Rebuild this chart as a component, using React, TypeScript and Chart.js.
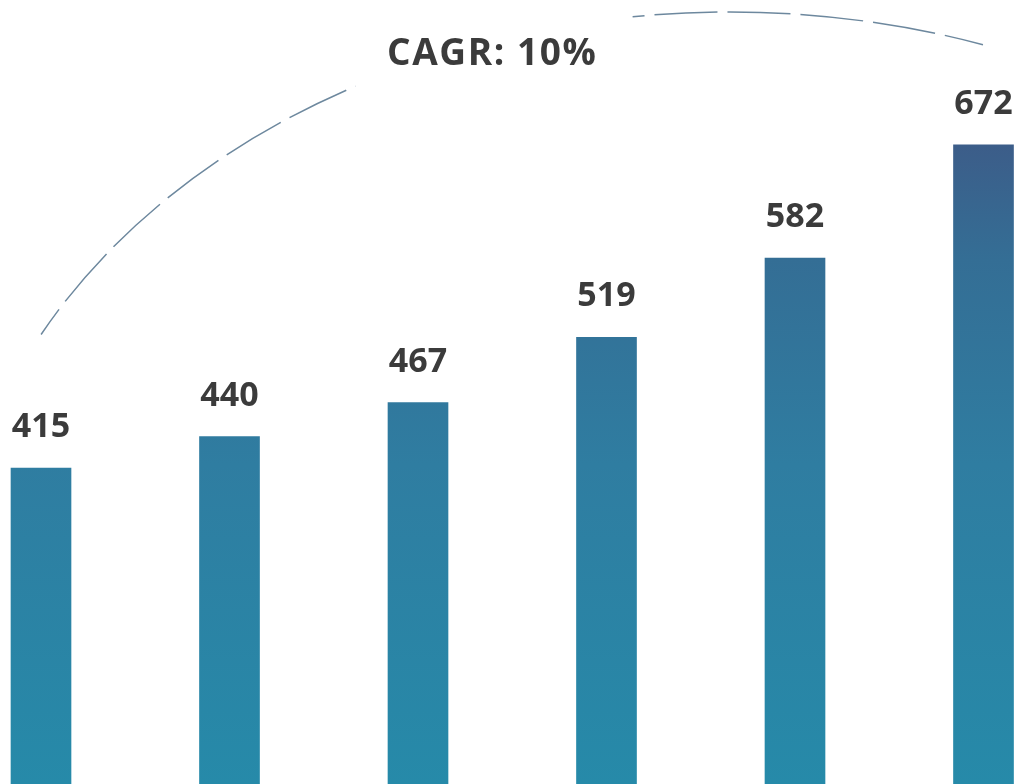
import React, { useEffect, useRef } from "react";
import { Chart, registerables } from "chart.js";

Chart.register(...registerables);

// ---- data ----
const categories = ["P1", "P2", "P3", "P4", "P5", "P6"];
const values = [415, 440, 467, 519, 582, 672];
const cagrLabel = "CAGR: 10%";

// ---- scale range (axis hidden) ----
const yMin = 164;
const yMax = 787;

const TEXT_COLOR = "#3b3b3b";
const ARC_COLOR = "#6d889e";

const labelsPlugin = {
  id: "barLabels",
  afterDatasetsDraw(chart: any) {
    const ctx = chart.ctx;
    const meta = chart.getDatasetMeta(0);
    ctx.save();
    ctx.fillStyle = TEXT_COLOR;
    ctx.font = "700 34px 'Open Sans'";
    ctx.textAlign = "center";
    ctx.textBaseline = "alphabetic";
    meta.data.forEach((bar: any, i: number) => {
      ctx.fillText(String(values[i]), bar.x, bar.y - 31);
    });
    ctx.restore();
  },
};

const cagrPlugin = {
  id: "cagrArc",
  afterDraw(chart: any) {
    const ctx = chart.ctx;
    const W = chart.width;
    const cx = W * 0.7171;
    const cy = 612;
    const rx = W * 0.7633;
    const ry = 600;
    const deg = Math.PI / 180;
    ctx.save();
    ctx.strokeStyle = ARC_COLOR;
    ctx.lineWidth = 1.5;
    ctx.setLineDash([63, 10]);
    ctx.lineDashOffset = 32;
    ctx.beginPath();
    ctx.ellipse(cx, cy, rx, ry, 0, -152.45 * deg, -118.8 * deg, false);
    ctx.stroke();
    ctx.lineDashOffset = 51;
    ctx.beginPath();
    ctx.ellipse(cx, cy, rx, ry, 0, -97.2 * deg, -71.0 * deg, false);
    ctx.stroke();
    ctx.setLineDash([]);
    ctx.fillStyle = TEXT_COLOR;
    ctx.font = "700 37px 'Open Sans'";
    (ctx as any).letterSpacing = "1.6px";
    ctx.textAlign = "left";
    ctx.textBaseline = "alphabetic";
    ctx.fillText(cagrLabel, 387, 65);
    ctx.restore();
  },
};

export default function App() {
  const canvasRef = useRef<HTMLCanvasElement | null>(null);

  useEffect(() => {
    document.body.style.margin = "0";
    const canvas = canvasRef.current;
    if (!canvas) return;
    const chart = new Chart(canvas, {
      type: "bar",
      data: {
        labels: categories,
        datasets: [
          {
            data: values,
            barThickness: 60,
            clip: false as any,
            borderWidth: 0,
            backgroundColor: (c: any) => {
              const ch = c.chart;
              const area = ch.chartArea;
              if (!area) return "#2a86a6";
              const yTop = ch.scales.y.getPixelForValue(Math.max(...values));
              const g = ch.ctx.createLinearGradient(0, area.bottom, 0, yTop);
              g.addColorStop(0, "#268aa9");
              g.addColorStop(0.5, "#2f7da1");
              g.addColorStop(0.82, "#346e95");
              g.addColorStop(1, "#3c5d89");
              return g;
            },
          },
        ],
      },
      options: {
        responsive: false,
        animation: false,
        devicePixelRatio: 1,
        layout: { padding: { left: 41, right: 34.5, top: 0, bottom: 0 } },
        plugins: {
          legend: { display: false },
          tooltip: { enabled: false },
        },
        scales: {
          x: { display: false, offset: false, grid: { display: false } },
          y: { display: false, min: yMin, max: yMax, grid: { display: false } },
        },
      },
      plugins: [labelsPlugin, cagrPlugin],
    });
    return () => chart.destroy();
  }, []);

  return (
    <div style={{ position: "absolute", left: 0, top: 0, width: 1018, height: 784 }}>
      <canvas ref={canvasRef} width={1018} height={784} />
    </div>
  );
}
